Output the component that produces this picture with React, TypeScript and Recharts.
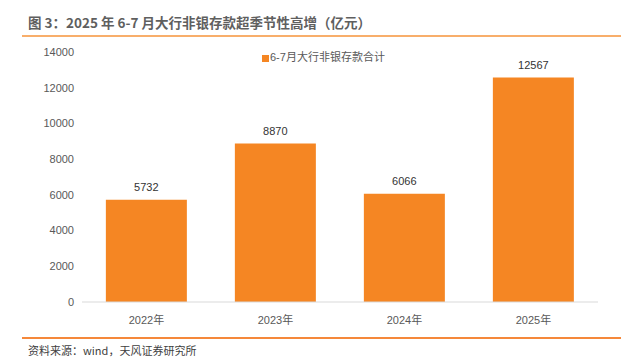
import { BarChart, Bar, XAxis, YAxis, Legend, LabelList } from 'recharts';

const years = ['2022年', '2023年', '2024年', '2025年'];
const deposits = [5732, 8870, 6066, 12567];
const yTicks = [0, 2000, 4000, 6000, 8000, 10000, 12000, 14000];

const seriesName = '6-7月大行非银存款合计';
const font = '"Liberation Sans", Arial, "Noto Sans CJK SC", sans-serif';

export default function App() {
  const data = years.map((year, i) => ({ year, value: deposits[i] }));

  return (
    <div
      style={{
        position: 'absolute',
        left: 0,
        top: 0,
        width: 621,
        height: 357,
        background: '#fff',
        fontFamily: font,
        overflow: 'hidden',
      }}
    >
      {/* 标题 */}
      <div
        style={{
          position: 'absolute',
          left: 28,
          top: 12,
          fontSize: 13.5,
          fontWeight: 'bold',
          color: '#5f5f5f',
          fontFamily: '"Noto Sans CJK SC", sans-serif',
          whiteSpace: 'nowrap',
        }}
      >
        图 3：2025 年 6-7 月大行非银存款超季节性高增（亿元）
      </div>
      <div style={{ position: 'absolute', left: 22, top: 35, width: 599, height: 2, background: '#F8AE6B' }} />

      <div style={{ position: 'absolute', left: 0, top: 0 }}>
        <BarChart
          width={621}
          height={330}
          data={data}
          margin={{ top: 36, right: 23, bottom: 0, left: 0 }}
          barCategoryGap="18.5%"
        >
          <YAxis
            width={82}
            domain={[0, 14000]}
            ticks={yTicks}
            axisLine={false}
            tickLine={false}
            tick={{ fontSize: 11, fill: '#595959', fontFamily: font }}
          />
          <XAxis
            dataKey="year"
            height={28}
            tickLine={false}
            axisLine={{ stroke: '#d9d9d9', strokeWidth: 1 }}
            tickMargin={8}
            tick={{ fontSize: 11, fill: '#595959', fontFamily: font }}
          />
          <Legend
            verticalAlign="top"
            iconType="square"
            iconSize={7}
            wrapperStyle={{ top: 48, left: 262, width: 'auto', fontSize: 11, fontFamily: font }}
            formatter={(v) => <span style={{ color: '#595959', marginLeft: -3 }}>{v}</span>}
          />
          <Bar dataKey="value" name={seriesName} fill="#F58623" isAnimationActive={false}>
            <LabelList dataKey="value" position="top" offset={9} fill="#333" fontSize={11} fontFamily={font} />
          </Bar>
        </BarChart>
      </div>

      <div style={{ position: 'absolute', left: 22, top: 337, width: 599, height: 2, background: '#F5883A' }} />
      {/* 资料来源 */}
      <div
        style={{
          position: 'absolute',
          left: 28,
          top: 342,
          fontSize: 11,
          color: '#404040',
          fontFamily: '"Noto Sans CJK SC", sans-serif',
          whiteSpace: 'nowrap',
        }}
      >
        资料来源：wind，天风证券研究所
      </div>
    </div>
  );
}
